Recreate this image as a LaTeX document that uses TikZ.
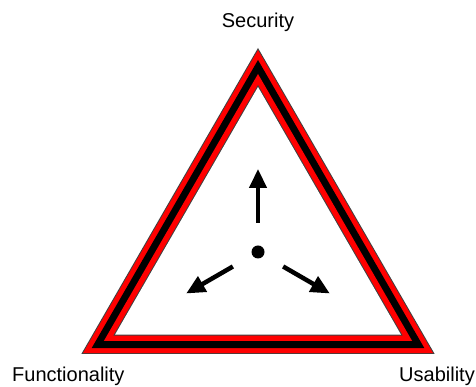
\documentclass[tikz,border=0pt]{standalone}
\usepackage{fontspec}
\setmainfont{Liberation Sans}
\usetikzlibrary{arrows.meta,calc}

\begin{document}
\begin{tikzpicture}[x=1pt,y=1pt,
  label/.style={font=\fontsize{20}{24}\selectfont, inner sep=0pt},
  push/.style={line width=4.5pt, -{Triangle[width=17pt,length=19pt]}},
  hub/.style={circle, fill=black, minimum size=13pt, inner sep=0pt}]
  \useasboundingbox (0,0) rectangle (476,387);

  % nested equilateral triangles about the centroid (apex radius, side)
  \coordinate (C) at (258,135);
  \fill[black!75] (C) ++(90:204) -- ++(240:353.3) -- ++(0:353.3) -- cycle;
  \fill[red]      (C) ++(90:202) -- ++(240:349.9) -- ++(0:349.9) -- cycle;
  \fill[black]    (C) ++(90:192) -- ++(240:332.6) -- ++(0:332.6) -- cycle;
  \fill[red]      (C) ++(90:178) -- ++(240:308.3) -- ++(0:308.3) -- cycle;
  \fill[black!75] (C) ++(90:167) -- ++(240:289.3) -- ++(0:289.3) -- cycle;
  \fill[white]    (C) ++(90:165) -- ++(240:285.8) -- ++(0:285.8) -- cycle;

  % centre point and the three directions
  \node[hub] (hub) at (C) {};
  \coordinate (s0) at ($(C)+(90:29)$);
  \coordinate (s1) at ($(C)+(90:83)$);
  \coordinate (f0) at ($(C)+(210:29)$);
  \coordinate (f1) at ($(C)+(210:83)$);
  \coordinate (u0) at ($(C)+(330:29)$);
  \coordinate (u1) at ($(C)+(330:83)$);
  \draw[push] (s0) -- (s1);
  \draw[push] (f0) -- (f1);
  \draw[push] (u0) -- (u1);

  % corner labels
  \node[label, anchor=base] (sec) at (258,359) {Security};
  \node[label, anchor=base west] (fun) at (12,5) {Functionality};
  \node[label, anchor=base east] (usa) at (475,5) {Usability};
\end{tikzpicture}
\end{document}
